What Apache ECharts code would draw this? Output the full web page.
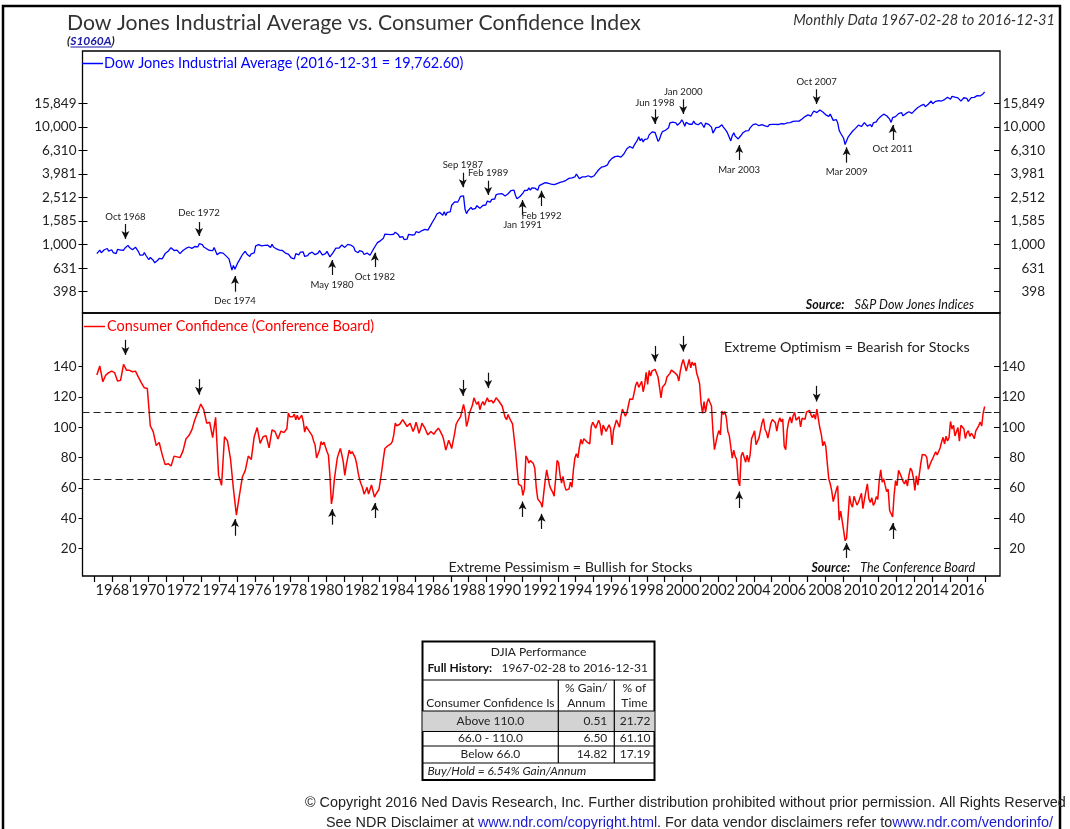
<!DOCTYPE html>
<html>
<head>
<meta charset="utf-8">
<title>Dow Jones Industrial Average vs. Consumer Confidence Index</title>
<script src="https://cdn.jsdelivr.net/npm/echarts@6/dist/echarts.min.js"></script>
<style>
html, body { margin: 0; padding: 0; background: #fff; }
#chart { width: 1070px; height: 829px; }
</style>
</head>
<body>
<div id="chart"></div>
<script>
// DJIA month-end closes, Feb 1967 onwards
const djia1960s = [839, 865, 897, 852, 860, 904, 901, 927, 880, 876, 905,
  856, 840, 840, 912, 899, 898, 883, 896, 936, 952, 985, 944,
  946, 905, 936, 950, 938, 873, 816, 837, 813, 856, 812, 800]
const djia1970s = [744, 778, 786, 736, 700, 684, 735, 765, 761, 756, 794, 839,
  869, 879, 904, 942, 907, 891, 858, 898, 887, 839, 831, 890,
  902, 928, 941, 954, 961, 929, 925, 964, 953, 956, 1018, 1020,
  999, 955, 951, 921, 901, 892, 926, 888, 947, 956, 822, 851,
  856, 861, 847, 837, 802, 802, 757, 679, 608, 666, 619, 616,
  704, 739, 768, 821, 832, 879, 832, 835, 794, 836, 860, 852,
  975, 973, 1000, 997, 975, 1003, 985, 974, 990, 965, 947, 1005,
  955, 947, 919, 927, 899, 916, 891, 862, 847, 818, 830, 831,
  770, 742, 757, 837, 841, 819, 862, 877, 866, 793, 799, 805,
  839, 809, 862, 855, 822, 842, 846, 888, 878, 816, 822, 839]
const djia1980s = [876, 863, 786, 817, 851, 868, 935, 933, 932, 925, 993, 964,
  947, 975, 1004, 998, 992, 977, 953, 882, 850, 853, 889, 875,
  871, 824, 823, 848, 820, 812, 809, 901, 896, 992, 1039, 1047,
  1076, 1113, 1130, 1226, 1200, 1222, 1199, 1216, 1233, 1225, 1276, 1259,
  1221, 1155, 1165, 1171, 1105, 1132, 1115, 1224, 1207, 1207, 1189, 1212,
  1287, 1284, 1267, 1258, 1316, 1336, 1348, 1334, 1329, 1374, 1472, 1547,
  1571, 1709, 1819, 1784, 1877, 1893, 1775, 1898, 1768, 1878, 1914, 1896,
  2158, 2224, 2305, 2286, 2292, 2419, 2572, 2663, 2596, 1994, 1834, 1939,
  1958, 2072, 1988, 2032, 2031, 2142, 2129, 2032, 2113, 2149, 2115, 2169,
  2342, 2258, 2294, 2419, 2480, 2440, 2661, 2737, 2693, 2645, 2706, 2753]
const djia1990s = [2591, 2627, 2707, 2657, 2877, 2881, 2905, 2614, 2453, 2442, 2560, 2634,
  2736, 2882, 2914, 2888, 3028, 2907, 3025, 3044, 3017, 3069, 2895, 3169,
  3224, 3267, 3236, 3359, 3397, 3319, 3394, 3257, 3272, 3226, 3305, 3301,
  3310, 3371, 3435, 3428, 3527, 3516, 3540, 3651, 3555, 3681, 3684, 3754,
  3978, 3832, 3636, 3682, 3758, 3625, 3765, 3913, 3843, 3908, 3739, 3834,
  3844, 4011, 4158, 4321, 4465, 4556, 4709, 4611, 4789, 4756, 5075, 5117,
  5395, 5486, 5588, 5569, 5643, 5655, 5529, 5616, 5882, 6029, 6522, 6448,
  6813, 6878, 6584, 7009, 7331, 7673, 8223, 7622, 7945, 7442, 7823, 7908,
  7907, 8546, 8800, 9063, 8900, 8952, 8883, 7539, 7843, 8592, 9117, 9181,
  9359, 9307, 9786, 10789, 10560, 10971, 10655, 10829, 10337, 10730, 10878, 11497]
const djia2000s = [10941, 10128, 10922, 10734, 10522, 10448, 10522, 11215, 10651, 10971, 10415, 10788,
  10887, 10495, 9879, 10735, 10912, 10502, 10523, 9950, 8848, 9075, 9852, 10021,
  9920, 10106, 10404, 9946, 9925, 9243, 8737, 8664, 7592, 8397, 8896, 8342,
  8054, 7891, 7992, 8480, 8850, 8985, 9234, 9416, 9275, 9801, 9782, 10454,
  10488, 10584, 10358, 10226, 10188, 10435, 10140, 10174, 10080, 10027, 10428, 10783,
  10490, 10766, 10504, 10193, 10467, 10275, 10641, 10482, 10569, 10440, 10806, 10718,
  10865, 10993, 11109, 11367, 11168, 11150, 11186, 11381, 11679, 12081, 12222, 12463,
  12622, 12269, 12354, 13063, 13628, 13409, 13212, 13358, 13896, 13930, 13372, 13265,
  12650, 12266, 12263, 12820, 12638, 11350, 11378, 11544, 10851, 9325, 8829, 8776,
  8001, 7063, 7609, 8168, 8500, 8447, 9172, 9496, 9712, 9713, 10345, 10428]
const djia2010s = [10067, 10325, 10857, 11009, 10137, 9774, 10466, 10015, 10788, 11118, 11006, 11578,
  11892, 12226, 12320, 12811, 12570, 12414, 12143, 11614, 10913, 11955, 12046, 12218,
  12633, 12952, 13212, 13214, 12393, 12880, 13009, 13091, 13437, 13096, 13026, 13104,
  13861, 14054, 14579, 14840, 15116, 14910, 15500, 14810, 15130, 15546, 16086, 16577,
  15699, 16322, 16458, 16581, 16717, 16827, 16563, 17098, 17043, 17391, 17828, 17823,
  17165, 18133, 17776, 17841, 18011, 17620, 17690, 16528, 16285, 17664, 17720, 17425,
  16466, 16517, 17685, 17774, 17787, 17930, 18432, 18401, 18308, 18142, 19124, 19763]

// Consumer Confidence: every 2 months Feb 1967 - Jun 1977, monthly after
const ccBimonthly = [134.4, 140.4, 130, 134.4, 136, 137,
  136, 130.4, 131, 141.5, 137.5, 137.5,
  136.6, 137, 133, 129.3, 126, 125.5,
  101, 97, 88, 90, 82, 75.4,
  76, 74.5, 81, 80.5, 80, 84.3,
  92.3, 94.5, 98.3, 105, 110, 115.3,
  111.6, 102.7, 103.3, 93.2, 106.5, 68.3,
  61.7, 93.8, 91, 79.4, 59.4, 42.1,
  55, 67.2, 71.6, 81, 78.7, 93.8,
  99.8, 89.4, 93.8, 94.5, 86.5, 98.3,
  97.2, 92.3, 97.5]
const cc1977to1979 = [97, 96.5, 95.4, 99, 109.3, 107,
  106, 107, 108.7, 105, 107.9, 105, 106.5, 107.9, 104, 96.8, 100.5, 99,
  97.5, 96, 94.5, 91, 88.3, 79.8, 79.4, 85, 90.6, 88.5, 90.2, 87]
const cc1980s = [84, 81.5, 68, 49.5, 55, 66, 73, 80, 83, 86, 82, 77,
  68.3, 75, 80, 85, 82.6, 84, 84, 80, 76, 70, 65.5, 62.6,
  60, 56, 58, 60.4, 56, 57, 62, 58, 54, 56, 57.5, 59,
  65, 72, 79.4, 86, 85, 87.8, 88, 89, 90.6, 95, 102.7, 101,
  100.5, 102, 103, 105, 104, 102, 100.5, 101, 102.7, 100, 97.2, 99.5,
  103.3, 100, 96, 99, 102.7, 101, 99.4, 97, 95, 96, 97.2, 96.5,
  95.4, 97, 97.5, 99.4, 98, 97.5, 94, 90.2, 85, 88, 91.5, 89,
  86, 91, 96, 102, 104, 105, 107, 111, 115, 110.4, 100.5, 104,
  109.4, 112, 114.6, 119.4, 117, 115, 117, 111.6, 115, 117, 114.6, 117,
  119.4, 117, 118, 117.6, 116, 117.5, 119.4, 118.5, 117, 115.5, 114, 112.8]
const cc1990s = [106.6, 105, 108.4, 106, 104, 102.2, 101.7, 84.7, 85.6, 62.6, 61.3, 61.2,
  55.1, 59.4, 81.1, 79.4, 76.4, 78.0, 77.7, 76.1, 72.9, 60.1, 52.7, 52.5,
  50.2, 47.3, 56.5, 65.1, 71.9, 72.6, 61.4, 59.0, 57.3, 54.6, 65.6, 78.1,
  76.7, 68.5, 63.2, 67.6, 61.9, 58.6, 59.2, 59.3, 63.8, 60.5, 71.9, 79.8,
  82.6, 79.9, 86.7, 92.1, 88.9, 92.5, 91.3, 90.4, 89.5, 89.1, 100.4, 103.4,
  101.4, 99.4, 100.2, 104.6, 102.0, 94.6, 101.4, 102.4, 97.3, 96.3, 101.6, 99.2,
  88.4, 98.0, 98.4, 104.8, 103.5, 100.1, 107.0, 112.0, 111.8, 107.3, 109.5, 114.2,
  118.7, 118.9, 118.5, 118.5, 127.9, 129.9, 126.3, 127.6, 130.2, 123.4, 128.1, 136.2,
  128.3, 137.4, 133.8, 137.2, 136.3, 138.2, 137.2, 133.1, 126.4, 119.3, 126.4, 126.7,
  128.9, 133.1, 134.0, 135.5, 137.7, 139.0, 136.2, 136.0, 134.2, 130.5, 137.0, 141.7]
const cc2000s = [144.7, 140.8, 137.1, 137.7, 144.7, 139.2, 143.0, 140.8, 142.5, 135.8, 132.6, 128.6,
  115.7, 109.2, 116.9, 109.9, 116.1, 118.9, 116.3, 114.0, 97.0, 85.3, 84.9, 94.6,
  97.8, 95.0, 110.7, 108.5, 110.3, 106.3, 97.4, 94.5, 93.7, 79.6, 84.9, 80.7,
  78.8, 64.8, 61.4, 81.0, 83.6, 83.5, 77.0, 81.7, 77.0, 81.7, 92.5, 94.8,
  97.7, 88.5, 88.5, 93.0, 93.1, 102.8, 105.7, 98.7, 96.7, 92.9, 92.6, 102.7,
  105.1, 104.4, 103.0, 97.5, 103.1, 106.2, 103.6, 105.5, 87.5, 85.2, 98.3, 103.8,
  106.8, 102.7, 107.5, 109.8, 104.7, 105.4, 107.0, 100.2, 105.9, 105.1, 105.3, 110.0,
  110.2, 111.2, 108.2, 106.3, 108.5, 105.3, 111.9, 105.6, 99.5, 95.2, 87.8, 90.6,
  87.3, 76.4, 65.9, 62.8, 58.1, 51.0, 51.9, 58.5, 61.4, 38.8, 44.7, 38.6,
  37.4, 25.3, 26.9, 40.8, 54.8, 49.3, 47.4, 54.5, 53.4, 48.7, 50.6, 53.6]
const cc2010s = [56.5, 46.4, 52.3, 57.7, 62.7, 52.9, 50.4, 53.5, 48.6, 50.2, 54.3, 52.5,
  64.8, 72.0, 63.8, 66.0, 61.7, 57.6, 59.2, 45.2, 46.4, 40.9, 55.2, 64.8,
  61.5, 71.6, 69.5, 68.7, 64.4, 62.7, 65.4, 61.3, 68.4, 73.1, 71.5, 66.7,
  58.4, 68.0, 61.9, 69.0, 76.2, 82.1, 81.0, 81.8, 80.2, 72.4, 72.0, 77.5,
  79.4, 78.3, 83.9, 81.7, 82.2, 86.4, 90.3, 93.4, 89.0, 94.1, 91.0, 93.1,
  103.8, 98.8, 101.4, 94.3, 94.6, 99.8, 90.9, 101.3, 102.6, 99.1, 92.6, 96.3,
  97.8, 94.0, 96.1, 94.7, 92.4, 97.4, 96.7, 101.1, 103.5, 100.8, 109.4, 113.7]

const ccThresholds = [110, 66]

// tick labels
const yearTicks = [1967, 1968, 1969, 1970, 1971, 1972, 1973, 1974, 1975, 1976, 1977, 1978, 1979,
  1980, 1981, 1982, 1983, 1984, 1985, 1986, 1987, 1988, 1989, 1990, 1991, 1992, 1993, 1994,
  1995, 1996, 1997, 1998, 1999, 2000, 2001, 2002, 2003, 2004, 2005, 2006, 2007, 2008, 2009,
  2010, 2011, 2012, 2013, 2014, 2015, 2016, 2017]
const yearLabels = [1968, 1970, 1972, 1974, 1976, 1978, 1980, 1982, 1984, 1986, 1988, 1990,
  1992, 1994, 1996, 1998, 2000, 2002, 2004, 2006, 2008, 2010, 2012, 2014, 2016]
const djiaTicks = [398.107, 630.957, 1000, 1584.89, 2511.89, 3981.07, 6309.57, 10000, 15848.9]
const ccTicks = [20, 40, 60, 80, 100, 120, 140]

// turning points marked with arrows
const arrowDates = [1968.73, 1972.86, 1974.88, 1980.33, 1982.73, 1987.67, 1989.09, 1991.02,
  1992.09, 1998.45, 2000.04, 2003.18, 2007.53, 2009.21, 2011.80]
const arrowLabels = ['Oct 1968', 'Dec 1972', 'Dec 1974', 'May 1980', 'Oct 1982', 'Sep 1987',
  'Feb 1989', 'Jan 1991', 'Feb 1992', 'Jun 1998', 'Jan 2000', 'Mar 2003', 'Oct 2007',
  'Mar 2009', 'Oct 2011']
const djiaArrowFrom = [1496, 1556, 398, 552, 645, 4080, 3488, 1785, 2128, 14090, 17140, 5230, 20840, 4960, 7730]
const djiaArrowTo = [1116, 1183, 541, 740, 854, 3068, 2637, 2393, 2869, 10570, 12860, 7015, 15640, 6700, 10370]
const djiaLabelAt = [1726, 1866, 334, 454, 534, 4744, 4033, 1467, 1760, 16030, 19650, 4300, 24040, 4160, 6486]
const ccArrowFrom = [157.6, 131.7, 28.5, 35.8, 40.2, 131.2, 136, 40.9, 33, 153.6, 160.2, 46.8, 127.3, 13.9, 26.4]
const ccArrowTo = [147.7, 121.4, 39.5, 46.1, 50.1, 120.7, 125.8, 51.1, 43, 143.3, 149.9, 57.7, 117, 23.7, 36.9]

// performance table
const tableRows = ['Above 110.0', '66.0 - 110.0', 'Below 66.0']
const gainPerAnnum = ['0.51', '6.50', '14.82']
const pctOfTime = ['21.72', '61.10', '17.19']

const DJIA_NAME = 'Dow Jones Industrial Average (2016-12-31 = 19,762.60)'
const CC_NAME = 'Consumer Confidence (Conference Board)'
const FONT = 'Lato, "Noto Sans", sans-serif'
const FOOT_FONT = '14.4px "Liberation Sans", Arial, sans-serif'

// values -> [decimal year, value], plotted mid-month
function toPoints(values, year, month, step) {
  const out = []
  for (let i = 0; i < values.length; i++) {
    const m = month - 1 + i * step
    out.push([year + Math.floor(m / 12) + ((m % 12) + 0.5) / 12, values[i]])
  }
  return out
}

const djiaData = [].concat(
  toPoints(djia1960s, 1967, 2, 1), toPoints(djia1970s, 1970, 1, 1),
  toPoints(djia1980s, 1980, 1, 1), toPoints(djia1990s, 1990, 1, 1),
  toPoints(djia2000s, 2000, 1, 1), toPoints(djia2010s, 2010, 1, 1))
const ccData = [].concat(
  toPoints(ccBimonthly, 1967, 2, 2), toPoints(cc1977to1979, 1977, 7, 1),
  toPoints(cc1980s, 1980, 1, 1), toPoints(cc1990s, 1990, 1, 1),
  toPoints(cc2000s, 2000, 1, 1), toPoints(cc2010s, 2010, 1, 1))

const X_MIN = 1966.32
const X_MAX = 2017.82

const arrowStyle = { color: '#111', width: 1.2, type: 'solid' }
const djiaArrows = arrowDates.map((d, i) => [
  { coord: [d, djiaArrowFrom[i]], symbol: 'none', lineStyle: arrowStyle },
  { coord: [d, djiaArrowTo[i]], symbol: 'arrow' }
])
const ccArrows = arrowDates.map((d, i) => [
  { coord: [d, ccArrowFrom[i]], symbol: 'none', lineStyle: arrowStyle },
  { coord: [d, ccArrowTo[i]], symbol: 'arrow' }
])
const ccLevels = ccThresholds.map(v => [
  { coord: [X_MIN, v], symbol: 'none', lineStyle: { color: '#222', width: 1.2, type: [7, 4] } },
  { coord: [X_MAX, v], symbol: 'none' }
])

const fmtNum = v => Math.round(v).toLocaleString('en-US')

const chart = echarts.init(document.getElementById('chart'), null, { renderer: 'canvas' })

const table = []
const TL = 422.5, TR = 654.5, C1 = 558.3, C2 = 614.3
const rowY = [721, 738.5, 754]
const txt = (x, y, s, extra) => ({
  type: 'text', x: x, y: y, silent: true, z: 102,
  style: Object.assign({ text: s, fill: '#222', font: '12px ' + FONT, align: 'center', verticalAlign: 'middle' }, extra || {})
})
const hline = (y, x1, x2) => ({ type: 'line', silent: true, z: 102, shape: { x1: x1, y1: y, x2: x2, y2: y }, style: { stroke: '#000', lineWidth: 1.2 } })
const vline = (x, y1, y2) => ({ type: 'line', silent: true, z: 102, shape: { x1: x, y1: y1, x2: x, y2: y2 }, style: { stroke: '#000', lineWidth: 1.2 } })
table.push({ type: 'rect', silent: true, z: 101, shape: { x: TL, y: 641.5, width: TR - TL, height: 138.5 }, style: { fill: '#fff', stroke: '#000', lineWidth: 2 } })
table.push({ type: 'rect', silent: true, z: 101, shape: { x: TL, y: 711, width: TR - TL, height: 20.5 }, style: { fill: '#d3d3d3' } })
table.push(hline(680, TL, TR), hline(711, TL, TR), hline(731.5, TL, TR), hline(746, TL, TR), hline(763, TL, TR))
table.push(vline(C1, 680, 763), vline(C2, 680, 763))
table.push(txt(538.5, 652, 'DJIA Performance'))
table.push(txt(427.5, 668, '{b|Full History:}   1967-02-28 to 2016-12-31', {
  align: 'left', rich: { b: { fontWeight: 'bold', fontSize: 12, fontFamily: FONT, fill: '#111' } }
}))
table.push(txt((TL + C1) / 2, 703, 'Consumer Confidence Is'))
table.push(txt((C1 + C2) / 2, 688, '% Gain/'), txt((C1 + C2) / 2, 703, 'Annum'))
table.push(txt((C2 + TR) / 2, 688, '% of'), txt((C2 + TR) / 2, 703, 'Time'))
tableRows.forEach((r, i) => {
  table.push(txt((TL + C1) / 2, rowY[i], r))
  table.push(txt(C2 - 7, rowY[i], gainPerAnnum[i], { align: 'right' }))
  table.push(txt(TR - 4, rowY[i], pctOfTime[i], { align: 'right' }))
})
table.push(txt(427.5, 771.5, 'Buy/Hold = 6.54% Gain/Annum', { align: 'left', font: 'italic 12px ' + FONT }))

chart.setOption({
  animation: false,
  backgroundColor: '#fff',
  textStyle: { fontFamily: FONT },
  legend: [{
    data: [{ name: DJIA_NAME, icon: 'rect' }],
    left: 82, top: 56, padding: 0, itemWidth: 21, itemHeight: 1.5, selectedMode: false,
    textStyle: { color: '#0000ff', fontSize: 14.5, fontFamily: FONT, padding: [0, 0, 0, -4] }
  }, {
    data: [{ name: CC_NAME, icon: 'rect' }],
    left: 84, top: 319, padding: 0, itemWidth: 21, itemHeight: 1.5, selectedMode: false,
    textStyle: { color: '#ff0000', fontSize: 14.5, fontFamily: FONT, padding: [0, 0, 0, -3] }
  }],
  grid: [
    { left: 82.5, right: 70, top: 51, height: 262, show: true, borderColor: '#000', borderWidth: 1.3, backgroundColor: 'transparent' },
    { left: 82.5, right: 70, top: 313, height: 263, show: true, borderColor: '#000', borderWidth: 1.3, backgroundColor: 'transparent' }
  ],
  xAxis: [{
    type: 'value', gridIndex: 0, min: X_MIN, max: X_MAX, show: false
  }, {
    type: 'value', gridIndex: 1, min: X_MIN, max: X_MAX,
    axisLine: { show: false },
    splitLine: { show: false },
    axisTick: { show: true, customValues: yearTicks, length: 6, lineStyle: { color: '#000', width: 1.2 } },
    axisLabel: { customValues: yearLabels, formatter: v => String(v), color: '#1a1a1a', fontSize: 14.5, fontFamily: FONT, margin: 7 }
  }],
  yAxis: [{
    type: 'log', logBase: 10, gridIndex: 0, position: 'left', min: 262.6, max: 44060,
    axisLine: { show: false }, splitLine: { show: false }, minorTick: { show: false },
    axisTick: { show: true, customValues: djiaTicks, length: 4, lineStyle: { color: '#000' } },
    axisLabel: { customValues: djiaTicks, formatter: fmtNum, color: '#222', fontSize: 13.5, fontFamily: FONT, margin: 6 }
  }, {
    type: 'log', logBase: 10, gridIndex: 0, position: 'left', min: 262.6, max: 44060,
    axisLine: { show: false }, splitLine: { show: false },
    axisTick: { show: true, inside: true, customValues: djiaTicks, length: 5, lineStyle: { color: '#000' } },
    axisLabel: { show: false }
  }, {
    type: 'log', logBase: 10, gridIndex: 0, position: 'right', min: 262.6, max: 44060,
    axisLine: { show: false }, splitLine: { show: false },
    axisTick: { show: true, inside: true, customValues: djiaTicks, length: 6, lineStyle: { color: '#000' } },
    axisLabel: { customValues: djiaTicks, formatter: fmtNum, color: '#222', fontSize: 13.5, fontFamily: FONT, margin: 45, align: 'right' }
  }, {
    type: 'value', gridIndex: 1, position: 'left', min: 2, max: 175.3,
    axisLine: { show: false }, splitLine: { show: false },
    axisTick: { show: true, customValues: ccTicks, length: 4, lineStyle: { color: '#000' } },
    axisLabel: { customValues: ccTicks, color: '#222', fontSize: 13.5, fontFamily: FONT, margin: 6 }
  }, {
    type: 'value', gridIndex: 1, position: 'left', min: 2, max: 175.3,
    axisLine: { show: false }, splitLine: { show: false },
    axisTick: { show: true, inside: true, customValues: ccThresholds, length: 5, lineStyle: { color: '#000' } },
    axisLabel: { show: false }
  }, {
    type: 'value', gridIndex: 1, position: 'right', min: 2, max: 175.3,
    axisLine: { show: false }, splitLine: { show: false },
    axisTick: { show: true, inside: true, customValues: ccTicks.concat(ccThresholds), length: 6, lineStyle: { color: '#000' } },
    axisLabel: { customValues: ccTicks, color: '#222', fontSize: 13.5, fontFamily: FONT, margin: 25, align: 'right' }
  }],
  series: [{
    name: DJIA_NAME, type: 'line', xAxisIndex: 0, yAxisIndex: 0,
    data: djiaData, showSymbol: false, symbol: 'none', color: '#0000ff',
    lineStyle: { color: '#0000ff', width: 1.3 }, z: 3,
    markLine: { silent: true, symbolSize: [6, 8], label: { show: false }, lineStyle: arrowStyle, data: djiaArrows },
    markPoint: {
      silent: true, symbol: 'circle', symbolSize: 1, itemStyle: { color: 'transparent' },
      label: { show: true, position: 'inside', formatter: '{b}', color: '#222', fontSize: 9.6, fontFamily: FONT },
      data: arrowLabels.map((t, i) => ({ name: t, coord: [arrowDates[i], djiaLabelAt[i]] }))
    }
  }, {
    name: CC_NAME, type: 'line', xAxisIndex: 1, yAxisIndex: 3,
    data: ccData, showSymbol: false, symbol: 'none', color: '#ff0000',
    lineStyle: { color: '#ff0000', width: 1.5 }, z: 3,
    markLine: { silent: true, symbolSize: [6, 8], label: { show: false }, lineStyle: arrowStyle, data: ccLevels.concat(ccArrows) }
  }],
  graphic: [
    { type: 'rect', silent: true, z: 100, shape: { x: 3, y: 6, width: 1057, height: 840 }, style: { fill: 'none', stroke: '#000', lineWidth: 2.5 } },
    { type: 'text', silent: true, z: 100, x: 67, y: 23, style: { text: 'Dow Jones Industrial Average vs. Consumer Confidence Index', fill: '#333', font: '21.2px ' + FONT, verticalAlign: 'middle' } },
    { type: 'text', silent: true, z: 100, x: 67, y: 41.5, style: {
      text: '{p|(}{l|S1060A}{p|)}', verticalAlign: 'middle',
      rich: { p: { fill: '#222', font: 'italic bold 12px ' + FONT }, l: { fill: '#1a1aa6', font: 'italic bold 12px ' + FONT } }
    } },
    { type: 'line', silent: true, z: 100, shape: { x1: 70.5, y1: 47, x2: 112, y2: 47 }, style: { stroke: '#1a1aa6', lineWidth: 1 } },
    { type: 'text', silent: true, z: 100, x: 1055, y: 20, style: { text: 'Monthly Data 1967-02-28 to 2016-12-31', fill: '#333', font: 'italic 14.6px ' + FONT, align: 'right', verticalAlign: 'middle' } },
    { type: 'text', silent: true, z: 100, x: 974, y: 305, style: {
      text: '{b|Source:}   {i|S&P Dow Jones Indices}', align: 'right', verticalAlign: 'middle',
      rich: { b: { fill: '#111', font: 'italic bold 12.5px ' + FONT }, i: { fill: '#111', font: 'italic 12.5px ' + FONT } }
    } },
    { type: 'text', silent: true, z: 100, x: 975, y: 567.5, style: {
      text: '{b|Source:}   {i|The Conference Board}', align: 'right', verticalAlign: 'middle',
      rich: { b: { fill: '#111', font: 'italic bold 12.5px ' + FONT }, i: { fill: '#111', font: 'italic 12.5px ' + FONT } }
    } },
    { type: 'text', silent: true, z: 100, x: 724, y: 347, style: { text: 'Extreme Optimism = Bearish for Stocks', fill: '#222', font: '14.3px ' + FONT, verticalAlign: 'middle' } },
    { type: 'text', silent: true, z: 100, x: 448.5, y: 567, style: { text: 'Extreme Pessimism = Bullish for Stocks', fill: '#222', font: '14.3px ' + FONT, verticalAlign: 'middle' } },
    { type: 'text', silent: true, z: 100, x: 305, y: 803, style: {
      text: '\u00a9 Copyright 2016 Ned Davis Research, Inc. Further distribution prohibited without prior permission. All Rights Reserved',
      fill: '#222', font: FOOT_FONT, verticalAlign: 'middle'
    } },
    { type: 'text', silent: true, z: 100, x: 326, y: 823, style: {
      text: 'See NDR Disclaimer at {l|www.ndr.com/copyright.html}. For data vendor disclaimers refer to{l|www.ndr.com/vendorinfo/}',
      fill: '#222', font: FOOT_FONT, verticalAlign: 'middle',
      rich: { l: { fill: '#1a1acc', font: FOOT_FONT } }
    } }
  ].concat(table)
})
</script>
</body>
</html>
